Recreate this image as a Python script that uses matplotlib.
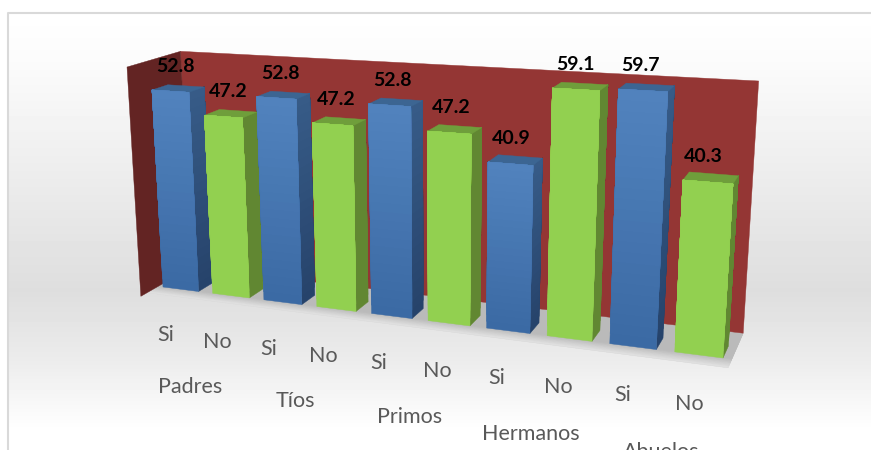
import numpy as np
import matplotlib
matplotlib.use('Agg')
import matplotlib.pyplot as plt

# Data
groups = ['Padres', 'Tíos', 'Primos', 'Hermanos', 'Abuelos']
answers = ['Si', 'No', 'Si', 'No', 'Si', 'No', 'Si', 'No', 'Si', 'No']
values = [52.8, 47.2, 52.8, 47.2, 52.8, 47.2, 40.9, 59.1, 59.7, 40.3]

plt.rcParams['font.family'] = ['Lato', 'DejaVu Sans']

BAR_W = 0.72
BAR_D = 1.0
U0, U1 = -0.1, 9.85
Z_FRONT, Z_BACK = -1.1, 2.25
Z_FLOOR = -0.7
V_TOP = 60

# Camera: front plane homography from four reference points plus depth vanishing point
src = [(0, 0), (9.72, 0), (0, 52.8), (9.72, 40.3)]
dst = [(163, 287), (723, 358), (152, 90), (733, 184)]
A, b = [], []
for (u, v), (x, y) in zip(src, dst):
    A.append([u, v, 1, 0, 0, 0, -u * x, -v * x])
    A.append([0, 0, 0, u, v, 1, -u * y, -v * y])
    b += [x, y]
H = np.append(np.linalg.solve(np.array(A, float), np.array(b, float)), 1).reshape(3, 3)
VP = np.array([968, -180, 1.0])
K = 0.019


def project(u, v, z=0.0):
    q = H @ np.array([u, v, 1.0]) + z * K * VP
    return q[0] / q[2], q[1] / q[2]


def face(ax, pts, color):
    xy = [project(*p) for p in pts]
    ax.fill(*zip(*xy), color=color, lw=0.3, zorder=3)


def mix(c1, c2, t):
    return tuple(np.array(matplotlib.colors.to_rgb(c1)) * (1 - t) + np.array(matplotlib.colors.to_rgb(c2)) * t)


fig = plt.figure(figsize=(8.71, 4.5), dpi=100)
ax = fig.add_axes([0, 0, 1, 1])
ax.set_xlim(0, 871)
ax.set_ylim(450, 0)
ax.axis('off')

# Chart area background
rows = np.arange(13, 450)
grey = np.interp(rows, [13, 60, 150, 290, 360, 430], [1.0, 0.985, 0.94, 0.87, 0.925, 1.0])
ax.imshow(grey[:, None], cmap='gray', vmin=0, vmax=1, extent=(9, 871, 450, 13), aspect='auto', zorder=0)
ax.set_xlim(0, 871)
ax.set_ylim(450, 0)
ax.plot([8, 8, 871], [450, 13, 13], color='#d9d9d9', lw=1.5, zorder=1)

# Floor: flat grey behind the bars, fading out just in front of them
steps = 24
dz = (Z_FLOOR - Z_BACK) / steps
for i in range(steps):
    z1 = Z_BACK + dz * i
    z2 = Z_BACK + dz * min(i + 2, steps)
    t = np.clip((0.1 - z1) / (0.1 - Z_FLOOR), 0, 1)
    face(ax, [(U0, 0, z1), (U1, 0, z1), (U1, 0, z2), (U0, 0, z2)], mix('#bababa', '#e6e6e6', t))

# Walls
face(ax, [(U0, 0, Z_BACK), (U1, 0, Z_BACK), (U1, V_TOP, Z_BACK), (U0, V_TOP, Z_BACK)], '#943634')
face(ax, [(U0, 0, Z_FRONT), (U0, 0, Z_BACK), (U0, V_TOP, Z_BACK), (U0, V_TOP, Z_FRONT)], '#632423')

# Bars, left to right so the next front face covers the previous side
styles = {
    'Si': ('#5183BE', '#3B69A3', '#375C88', '#26426A', '#3C6592'),
    'No': ('#92D050', '#92D050', '#618732', '#618732', '#6F9E3B'),
}
for i, (val, ans) in enumerate(zip(values, answers)):
    front_top, front_bot, side_top, side_bot, top = styles[ans]
    u1, u2 = i, i + BAR_W
    n = 24
    # each band runs up to the bar top and the next one paints over it, so no seams show
    for j in range(n):
        v1 = val * j / n
        t = 1 - (j + 0.5) / n
        face(ax, [(u2, v1, 0), (u2, v1, BAR_D), (u2, val, BAR_D), (u2, val, 0)], mix(side_top, side_bot, t))
    face(ax, [(u1, val, 0), (u2, val, 0), (u2, val, BAR_D), (u1, val, BAR_D)], top)
    for j in range(n):
        v1 = val * j / n
        t = 1 - (j + 0.5) / n
        face(ax, [(u1, v1, 0), (u2, v1, 0), (u2, val, 0), (u1, val, 0)], mix(front_top, front_bot, t))

# Value labels
for i, val in enumerate(values):
    x, y = project(i + BAR_W / 2, val, 0.45)
    ax.text(x - 2 - 5 * (i / 9) ** 3, y - 22, f'{val:.1f}', ha='center', va='center', fontsize=14,
            fontweight='bold', color='black', zorder=5)

# Category labels
for i, ans in enumerate(answers):
    x, y = project(i + BAR_W / 2, -9, -1.0)
    ax.text(x - 1, y + 4 - 5 * i / 9, ans, ha='center', va='center', fontsize=15.5, color='#595959', zorder=5)
for i, name in enumerate(groups):
    x, y = project(0.76 + 2.05 * i, -22, -1.0)
    ax.text(x, y + 6 - 2 * i, name, ha='center', va='center', fontsize=15.5, color='#595959', zorder=5)

fig.savefig('out.png', dpi=100)
